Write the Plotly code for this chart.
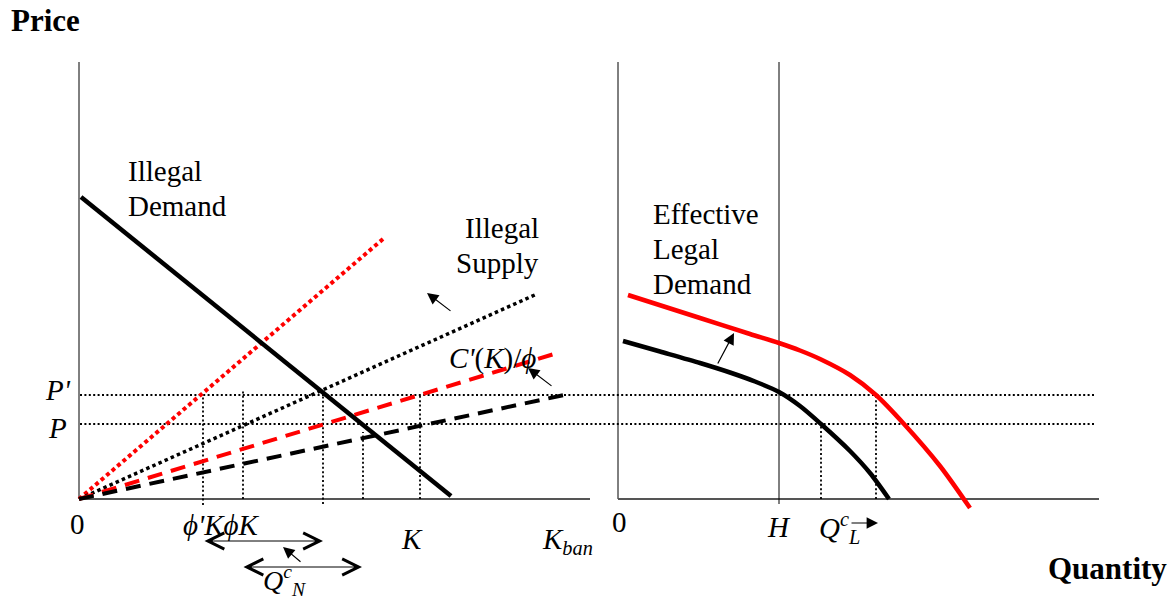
import plotly.graph_objects as go

W, HPX = 1176, 601

# ---------------- data (diagram units) ----------------
# Left panel: illegal market
demand_q = [0.2, 37.2]
demand_p = [30.2, 0.3]
sup_red_dot_q = [0, 30.4]
sup_red_dot_p = [0, 26.0]
sup_blk_dot_q = [0, 45.8]
sup_blk_dot_p = [0, 20.5]
sup_red_dash_q = [0, 47.5]
sup_red_dash_p = [0, 14.5]
sup_blk_dash_q = [0, 48.5]
sup_blk_dash_p = [0, 10.4]

P_prime = 10.4
P_level = 7.5
price_line_q = [0.1, 101.6]

left_guide_q = [12.4, 16.4, 24.4, 28.4, 34.1]
left_guide_lo = [-0.6, 0.0, -0.5, 0.0, 0.0]
left_guide_hi = [10.4, 10.9, 10.6, 6.7, 10.4]

left_axis_top = 43.7
left_axis_len = 51.1

# Right panel: legal market
legal_blk_q = [0.5, 4.2, 8.2, 11.2, 13.7, 16.1, 18.2, 20.3, 23.2, 25.2, 27.1]
legal_blk_p = [15.8, 14.75, 13.6, 12.65, 11.75, 10.7, 9.3, 7.5, 4.8, 2.6, 0.0]
legal_red_q = [1.0, 8.2, 13.2, 16.1, 18.2, 20.2, 23.2, 25.8, 28.6, 32.2, 35.2]
legal_red_p = [20.4, 18.1, 16.5, 15.6, 14.85, 14.0, 12.4, 10.4, 7.5, 3.3, -0.9]
H_q = 16.1
right_guide_q = [20.3, 25.8]
right_guide_hi = [P_level, P_prime]
right_axis_top = 43.7
right_axis_len = 48.1

# Labels
price_label = "<b>Price</b>"
qty_label = "<b>Quantity</b>"
illegal_demand = ["Illegal", "Demand"]
illegal_supply = ["Illegal", "Supply"]
legal_demand = ["Effective", "Legal", "Demand"]

FONT = "Liberation Serif, Times New Roman, serif"
FS = 29

fig = go.Figure()


def line(q, p, color="black", width=1, dash="solid", axis="x", shape="linear"):
    fig.add_trace(go.Scatter(x=q, y=p, mode="lines", xaxis=axis, yaxis="y",
                             line=dict(color=color, width=width, dash=dash, shape=shape,
                                       smoothing=0.8 if shape == "spline" else None),
                             hoverinfo="skip", showlegend=False))


# left axes
line([0, 0], [0, left_axis_top], "black", 1)
line([0, left_axis_len], [0, 0], "#555555", 2)
# right axes
line([0, 0], [0, right_axis_top], "black", 1, axis="x2")
line([0, right_axis_len], [0, 0], "#555555", 2, axis="x2")
line([H_q, H_q], [-0.5, right_axis_top], "black", 1, axis="x2")

# price guide lines
DOTS = "2px,2.4px"
line(price_line_q, [P_prime, P_prime], "black", 1.8, DOTS)
line(price_line_q, [P_level, P_level], "black", 1.8, DOTS)
for q, lo, hi in zip(left_guide_q, left_guide_lo, left_guide_hi):
    line([q, q], [lo, hi], "black", 1.8, DOTS)
for q, hi in zip(right_guide_q, right_guide_hi):
    line([q, q], [0, hi], "black", 1.8, DOTS, axis="x2")

# supply curves
line(sup_red_dot_q, sup_red_dot_p, "#ff0000", 4, "4px,3.2px")
line(sup_blk_dot_q, sup_blk_dot_p, "black", 3.5, "3.5px,3.2px")
line(sup_red_dash_q, sup_red_dash_p, "#ff0000", 4, "15px,9px")
line(sup_blk_dash_q, sup_blk_dash_p, "black", 4, "15px,9px")
# demand
line(demand_q, demand_p, "black", 4.5)
# legal demand curves
line(legal_blk_q, legal_blk_p, "black", 4.5, axis="x2", shape="spline")
line(legal_red_q, legal_red_p, "#ff0000", 4.5, axis="x2", shape="spline")

anns = []


def arrow(x, y, ax, ay, xref="x", both=False):
    d = dict(x=x, y=y, ax=ax, ay=ay, xref=xref, yref="y", axref=xref, ayref="y",
             text="", showarrow=True, arrowcolor="black", standoff=0, startstandoff=0)
    if both:
        d.update(arrowhead=5, startarrowhead=5, arrowside="end+start",
                 arrowsize=3.2, startarrowsize=3.2, arrowwidth=1)
    else:
        d.update(arrowhead=2, arrowsize=1.9, arrowwidth=1.2)
    anns.append(d)


arrow(34.8, 20.6, 37.3, 18.7)
arrow(44.9, 13.1, 47.4, 11.2)
arrow(20.4, -4.8, 22.3, -6.4)
arrow(24.4, -4.2, 12.4, -4.2, both=True)
arrow(28.3, -6.8, 16.3, -6.8, both=True)
arrow(11.6, 16.6, 9.9, 13.4, xref="x2")
arrow(26.0, -2.4, 23.2, -2.4, xref="x2")


def label(text, px, py, xanchor="center", size=FS):
    anns.append(dict(text=text, x=px / W, y=1 - py / HPX, xref="paper", yref="paper",
                     xanchor=xanchor, yanchor="middle", showarrow=False,
                     font=dict(family=FONT, size=size, color="black")))


label(price_label, 9, 21, "left", 31)
label(qty_label, 1169, 568, "right", 31)
label("0", 77, 524)
label("0", 619, 522)
label("<i>ϕ'KϕK</i>", 181, 525, "left")
label("<i>K</i>", 412, 539)
label("<i>K</i><sub><i>ban</i></sub>", 540, 541, "left")
label("<i>P'</i>", 73, 390, "right")
label("<i>P</i>", 69, 428, "right")
for i, t in enumerate(illegal_demand):
    label(t, 126, 171 + 35 * i, "left")
for i, t in enumerate(illegal_supply):
    label(t, 541, 228 + 35 * i, "right")
for i, t in enumerate(legal_demand):
    label(t, 651, 214 + 35 * i, "left")
label("<i>C'</i>(<i>K</i>)/<i>ϕ</i>", 447, 358, "left")
label("<i>H</i>", 779, 527)
label("<i>Q</i><sup><i>c</i></sup><sub><i>L</i></sub>", 817, 528, "left")
label("<i>Q</i><sup><i>c</i></sup><sub><i>N</i></sub>", 261, 580, "left", 28)

fig.update_layout(
    width=W, height=HPX, autosize=False,
    margin=dict(l=0, r=0, t=0, b=0, pad=0),
    paper_bgcolor="white", plot_bgcolor="white",
    showlegend=False,
    xaxis=dict(range=[-7.9, 109.7], domain=[0, 1], visible=False, fixedrange=True),
    xaxis2=dict(range=[-61.8, 55.8], domain=[0, 1], overlaying="x", visible=False, fixedrange=True),
    yaxis=dict(range=[-10.2, 49.9], domain=[0, 1], visible=False, fixedrange=True),
    annotations=anns,
)

fig.write_html("out.html", config={"displayModeBar": False},
               post_script="document.body.style.margin='0';document.body.style.overflow='hidden';")
